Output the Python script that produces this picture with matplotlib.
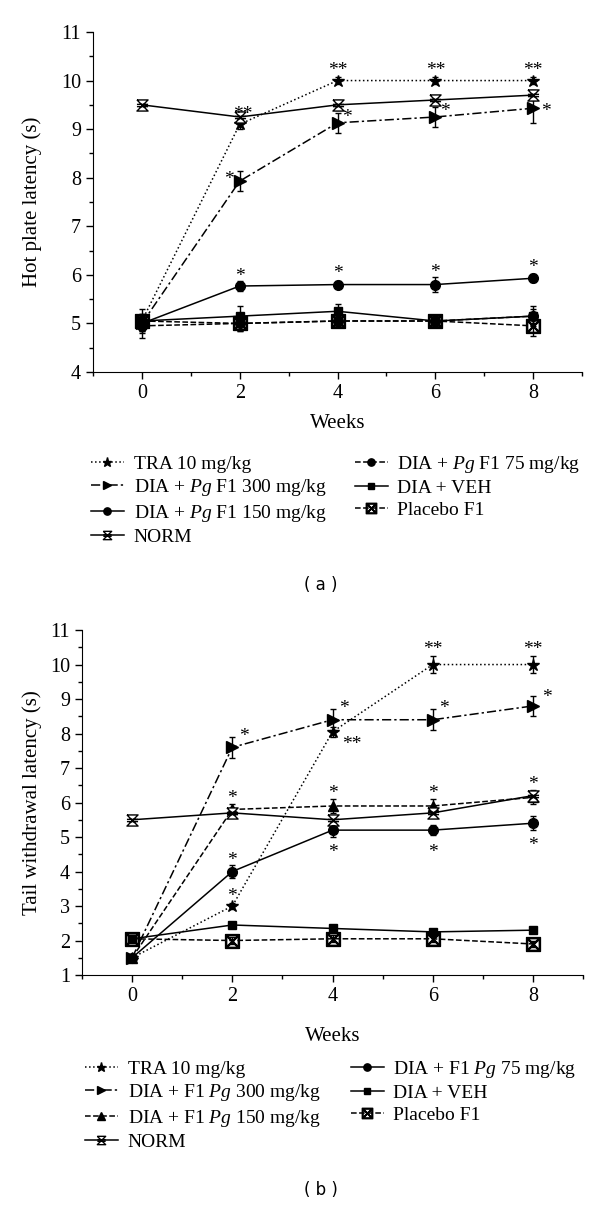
import numpy as np
import matplotlib
matplotlib.use("Agg")
import matplotlib.pyplot as plt
from matplotlib.path import Path
from matplotlib.lines import Line2D

plt.rcParams['font.family'] = ['Liberation Serif', 'DejaVu Serif']
plt.rcParams['mathtext.fontset'] = 'custom'
plt.rcParams['mathtext.rm'] = 'Liberation Serif'
plt.rcParams['mathtext.it'] = 'Liberation Serif:italic'

weeks = [0, 2, 4, 6, 8]

# panel (a) hot plate
hp_tra = [5.05, 9.1, 10.0, 10.0, 10.0]
hp_tra_err = [0.1, 0.1, 0.08, 0.08, 0.08]
hp_300 = [5.0, 7.93, 9.13, 9.25, 9.43]
hp_300_err = [0.15, 0.2, 0.2, 0.2, 0.3]
hp_150 = [5.0, 5.77, 5.8, 5.8, 5.93]
hp_150_err = [0.15, 0.1, 0.08, 0.15, 0.08]
hp_norm = [9.5, 9.25, 9.5, 9.6, 9.7]
hp_norm_err = [0.05, 0.1, 0.1, 0.08, 0.1]
hp_75 = [4.95, 5.0, 5.05, 5.05, 5.15]
hp_75_err = [0.25, 0.15, 0.1, 0.1, 0.15]
hp_veh = [5.05, 5.15, 5.25, 5.05, 5.15]
hp_veh_err = [0.25, 0.2, 0.15, 0.1, 0.2]
hp_plac = [5.05, 5.0, 5.05, 5.05, 4.95]
hp_plac_err = [0.15, 0.15, 0.1, 0.1, 0.2]

# panel (b) tail withdrawal
tw_tra = [1.5, 3.0, 8.05, 10.0, 10.0]
tw_tra_err = [0.05, 0.1, 0.15, 0.25, 0.25]
tw_300 = [1.5, 7.6, 8.4, 8.4, 8.8]
tw_300_err = [0.05, 0.3, 0.3, 0.3, 0.3]
tw_150 = [1.5, 5.8, 5.9, 5.9, 6.15]
tw_150_err = [0.05, 0.15, 0.2, 0.2, 0.2]
tw_norm = [5.5, 5.7, 5.5, 5.7, 6.2]
tw_norm_err = [0.05, 0.1, 0.1, 0.1, 0.1]
tw_75 = [1.5, 4.0, 5.2, 5.2, 5.4]
tw_75_err = [0.05, 0.2, 0.2, 0.15, 0.2]
tw_veh = [2.05, 2.45, 2.35, 2.25, 2.3]
tw_veh_err = [0.1, 0.08, 0.08, 0.08, 0.08]
tw_plac = [2.05, 2.0, 2.05, 2.05, 1.9]
tw_plac_err = [0.1, 0.1, 0.1, 0.1, 0.1]

labels_a = ['TRA 10 mg/kg', r'DIA + $\it{Pg}$ F1 300 mg/kg', r'DIA + $\it{Pg}$ F1 150 mg/kg', 'NORM',
            r'DIA + $\it{Pg}$ F1 75 mg/kg', 'DIA + VEH', 'Placebo F1']
labels_b = ['TRA 10 mg/kg', r'DIA + F1 $\it{Pg}$ 300 mg/kg', r'DIA + F1 $\it{Pg}$ 150 mg/kg', 'NORM',
            r'DIA + F1 $\it{Pg}$ 75 mg/kg', 'DIA + VEH', 'Placebo F1']

# NORM marker: hourglass with a cross through it
norm_marker = Path([(-1, 1), (1, 1), (-1, -1), (1, -1), (-1, 1),
                    (-1, 0.2), (1, 0.2), (-1, -0.2), (1, -0.2)],
                   [Path.MOVETO, Path.LINETO, Path.LINETO, Path.LINETO, Path.LINETO,
                    Path.MOVETO, Path.LINETO, Path.MOVETO, Path.LINETO])

dashdot = (0, (6, 2, 1.5, 2))
st_tra = dict(ls=':', marker='*', ms=9)
st_300 = dict(ls=dashdot, marker='>', ms=8)
st_tri = dict(ls='--', marker='^', ms=7)
st_norm = dict(ls='-', marker=norm_marker, ms=8, mfc='white')
st_circ = dict(ls='-', marker='o', ms=7)
st_circ_d = dict(ls='--', marker='o', ms=7)
st_sq = dict(ls='-', marker='s', ms=6)
st_plac = dict(ls='--', marker=r'$\boxtimes$', ms=10)

styles_a = [st_tra, st_300, st_circ, st_norm, st_circ_d, st_sq, st_plac]
styles_b = [st_tra, st_300, st_tri, st_norm, st_circ, st_sq, st_plac]

fig = plt.figure(figsize=(6, 12.07), dpi=100)


def draw(ax, series, errs, stls, ylim, ylabel):
    handles = []
    for y, e, st in zip(series, errs, stls):
        ax.errorbar(weeks, y, yerr=e, color='black', lw=1.1, capsize=2.5,
                    elinewidth=1, capthick=1, mec='black',
                    mfc=st.get('mfc', 'black'), marker=st['marker'],
                    ms=st['ms'], ls=st['ls'], mew=1)
        handles.append(Line2D([], [], color='black', lw=1.1, ls=st['ls'],
                              marker=st['marker'], ms=st['ms'] * 0.75,
                              mfc=st.get('mfc', 'black'), mec='black', mew=1))
    ax.set_xlim(-1, 9)
    ax.set_ylim(*ylim)
    ax.set_xticks(weeks)
    ax.set_xticks([-1, 1, 3, 5, 7, 9], minor=True)
    ax.set_yticks(np.arange(ylim[0], ylim[1] + 0.1, 1))
    ax.set_yticks(np.arange(ylim[0] + 0.5, ylim[1], 1), minor=True)
    ax.spines['top'].set_visible(False)
    ax.spines['right'].set_visible(False)
    ax.tick_params(which='major', length=5, width=1, labelsize=14.5, direction='out')
    ax.tick_params(which='minor', length=3, width=1, direction='out')
    ax.set_xlabel('Weeks', fontsize=15)
    ax.set_ylabel(ylabel, fontsize=15)
    return handles


def stars(ax, notes, series):
    for idx, wi, txt, dx, dy in notes:
        ax.annotate(txt, (weeks[wi], series[idx][wi]), xytext=(dx, dy),
                    textcoords='offset points', ha='center', va='center', fontsize=14)


# ---- panel (a)
ax1 = fig.add_axes([0.155, 0.6918, 0.815, 0.2817])
ser_a = [hp_tra, hp_300, hp_150, hp_norm, hp_75, hp_veh, hp_plac]
err_a = [hp_tra_err, hp_300_err, hp_150_err, hp_norm_err, hp_75_err, hp_veh_err, hp_plac_err]
ha = draw(ax1, ser_a, err_a, styles_a, (4, 11), 'Hot plate latency (s)')
ax1.yaxis.set_label_coords(-0.105, 0.5)
ax1.xaxis.set_label_coords(0.5, -0.125)
notes_a = [(0, 1, '**', 2, 7), (0, 2, '**', 0, 7), (0, 3, '**', 0, 7), (0, 4, '**', 0, 7),
           (1, 1, '*', -8, 1), (1, 2, '*', 7, 4), (1, 3, '*', 7, 4), (1, 4, '*', 9, -2),
           (2, 1, '*', 0, 7), (2, 2, '*', 0, 8), (2, 3, '*', 0, 9), (2, 4, '*', 0, 8)]
stars(ax1, notes_a, ser_a)
fig.legend(ha, labels_a, loc='upper left', bbox_to_anchor=(0.135, 1 - 444 / 1207), ncol=2,
           frameon=False, fontsize=14, handlelength=1.7, labelspacing=0.23,
           columnspacing=1.45, handletextpad=0.5, borderpad=0)
fig.text(0.535, 1 - 585 / 1207, '( a )', ha='center', va='center', fontsize=12,
         family='DejaVu Sans')

# ---- panel (b)
ax2 = fig.add_axes([0.1367, 0.1922, 0.835, 0.2858])
ser_b = [tw_tra, tw_300, tw_150, tw_norm, tw_75, tw_veh, tw_plac]
err_b = [tw_tra_err, tw_300_err, tw_150_err, tw_norm_err, tw_75_err, tw_veh_err, tw_plac_err]
hb = draw(ax2, ser_b, err_b, styles_b, (1, 11), 'Tail withdrawal latency (s)')
ax2.yaxis.set_label_coords(-0.08, 0.5)
ax2.xaxis.set_label_coords(0.5, -0.15)
notes_b = [(0, 1, '*', 0, 7), (0, 2, '**', 14, -9), (0, 3, '**', 0, 11), (0, 4, '**', 0, 11),
           (1, 1, '*', 8, 8), (1, 2, '*', 8, 8), (1, 3, '*', 8, 8), (1, 4, '*', 10, 6),
           (2, 1, '*', 0, 8), (2, 2, '*', 0, 9), (2, 3, '*', 0, 9), (2, 4, '*', 0, 9),
           (4, 1, '*', 0, 8), (4, 2, '*', 0, -16), (4, 3, '*', 0, -16), (4, 4, '*', 0, -16)]
stars(ax2, notes_b, ser_b)
fig.legend(hb, labels_b, loc='upper left', bbox_to_anchor=(0.125, 1 - 1049 / 1207), ncol=2,
           frameon=False, fontsize=14, handlelength=1.7, labelspacing=0.23,
           columnspacing=1.55, handletextpad=0.5, borderpad=0)
fig.text(0.535, 1 - 1190 / 1207, '( b )', ha='center', va='center', fontsize=12,
         family='DejaVu Sans')

fig.savefig('out.png', dpi=100)
